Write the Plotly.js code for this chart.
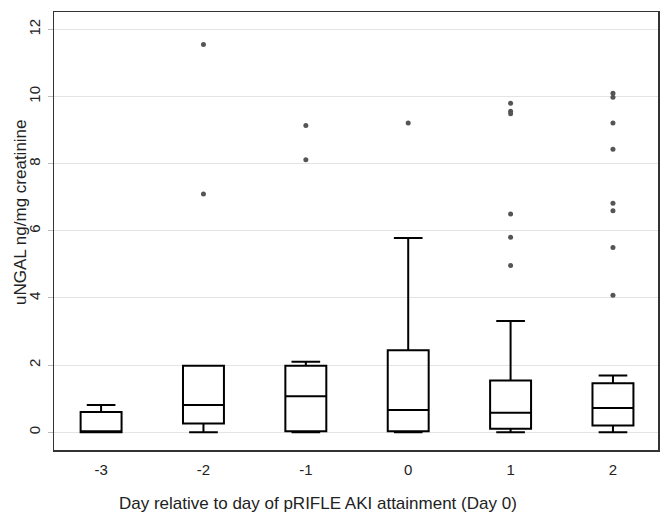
<!DOCTYPE html>
<html>
<head>
<meta charset="utf-8">
<script src="https://cdn.plot.ly/plotly-3.0.1.min.js"></script>
<style>html,body{margin:0;padding:0;background:#fff}#chart{width:669px;height:530px}</style>
</head>
<body>
<div id="chart"></div>
<script>
// Box statistics per day
var days        = [-3, -2, -1, 0, 1, 2];
var q1          = [0.00, 0.26, 0.03, 0.03, 0.10, 0.20];
var medians     = [0.00, 0.81, 1.07, 0.66, 0.58, 0.72];
var q3          = [0.60, 1.98, 1.98, 2.44, 1.54, 1.46];
var lowerFence  = [0.00, 0.00, 0.00, 0.00, 0.00, 0.00];
var upperFence  = [0.81, 1.98, 2.10, 5.79, 3.31, 1.69];

// Outliers
var outlierDay  = [-2, -2, -1, -1, 0, 1, 1, 1, 1, 1, 1, 2, 2, 2, 2, 2, 2, 2, 2];
var outlierVal  = [11.55, 7.10, 9.14, 8.12, 9.21, 9.80, 9.56, 9.49, 6.50, 5.81, 4.97,
                   10.10, 9.98, 9.21, 8.43, 6.82, 6.60, 5.50, 4.08];

var tickVals = [-3, -2, -1, 0, 1, 2];
var tickText = ['-3', '-2', '-1', '0', '1', '2'];
var yTicks   = [0, 2, 4, 6, 8, 10, 12];

var xTitle = 'Day relative to day of pRIFLE AKI attainment (Day 0)';
var yTitle = 'uNGAL ng/mg creatinine';

var traces = [
  {
    type: 'box',
    x: days,
    q1: q1,
    median: medians,
    q3: q3,
    lowerfence: lowerFence,
    upperfence: upperFence,
    width: 0.4,
    whiskerwidth: 0.7,
    boxpoints: false,
    fillcolor: 'rgba(0,0,0,0)',
    line: {color: '#000000', width: 2},
    showlegend: false,
    hoverinfo: 'skip'
  },
  {
    type: 'scatter',
    mode: 'markers',
    x: outlierDay,
    y: outlierVal,
    marker: {color: '#555555', size: 5},
    showlegend: false
  }
];

var layout = {
  width: 669,
  height: 530,
  margin: {l: 54, r: 11, t: 12, b: 80},
  paper_bgcolor: '#ffffff',
  plot_bgcolor: '#ffffff',
  font: {family: 'Liberation Sans, Arial, sans-serif', color: '#222222', size: 13},
  xaxis: {
    range: [-3.46, 2.44],
    tickvals: tickVals,
    ticktext: tickText,
    showgrid: false,
    zeroline: false,
    showline: true,
    mirror: true,
    linecolor: '#333333',
    linewidth: 1.5,
    ticks: '',
    ticklabelstandoff: 5,
    tickfont: {size: 15, color: '#222222'}
  },
  yaxis: {
    range: [-0.53, 12.52],
    tickvals: yTicks,
    ticktext: yTicks.map(String),
    tickangle: -90,
    showgrid: true,
    gridcolor: '#e4e4e4',
    gridwidth: 1,
    zeroline: false,
    showline: true,
    mirror: true,
    linecolor: '#333333',
    linewidth: 1.5,
    ticks: 'outside',
    ticklen: 5,
    tickcolor: '#bbbbbb',
    ticklabelstandoff: 2,
    tickfont: {size: 15, color: '#222222'}
  },
  annotations: [
    {
      text: xTitle,
      xref: 'paper', yref: 'paper',
      x: (318 - 54) / 604, y: -53 / 438,
      xanchor: 'center', yanchor: 'middle',
      showarrow: false,
      font: {size: 17, color: '#222222'}
    },
    {
      text: yTitle,
      xref: 'paper', yref: 'paper',
      x: (20 - 54) / 604, y: (450 - 212) / 438,
      xanchor: 'center', yanchor: 'middle',
      textangle: -90,
      showarrow: false,
      font: {size: 17, color: '#222222'}
    }
  ]
};

Plotly.newPlot('chart', traces, layout, {displayModeBar: false, staticPlot: true});
</script>
</body>
</html>
